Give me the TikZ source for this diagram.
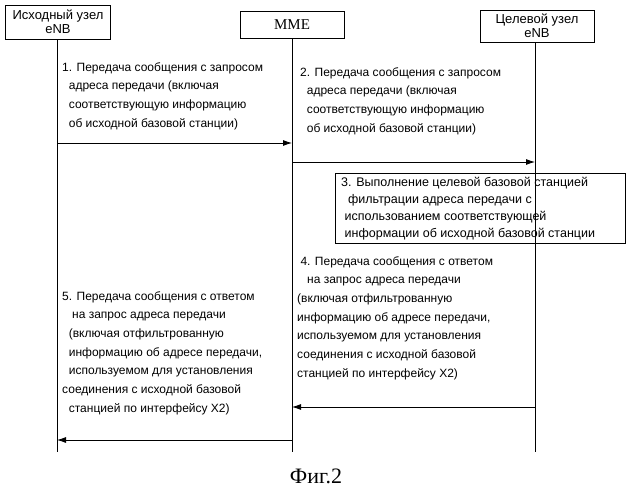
\documentclass[tikz,border=0pt]{standalone}
\usepackage{fontspec}
\setmainfont{Liberation Sans}
\newfontfamily\capfont{Liberation Serif}
\usetikzlibrary{arrows.meta}
\begin{document}
\begin{tikzpicture}[x=1pt,y=-1pt,
  ent/.style={draw,line width=0.8pt,inner sep=0pt,font=\fontsize{13}{14}\selectfont,align=center},
  life/.style={line width=0.8pt},
  msg/.style={line width=0.8pt,-{Latex[length=9pt,width=6pt]}},
  txt/.style={font=\fontsize{12}{18.7}\selectfont,align=left,anchor=north west,inner sep=0pt}]
\useasboundingbox (0,0) rectangle (634,500);
\node[ent,minimum width=105,minimum height=34] (src) at (58,22) {Исходный узел\\eNB};
\node[ent,minimum width=104,minimum height=27,font=\fontsize{15}{16}\selectfont\capfont] (mme) at (292,25) {MME};
\node[ent,minimum width=114,minimum height=32] (tgt) at (537,26) {Целевой узел\\eNB};
\coordinate (s1) at (57,143); \coordinate (m1) at (292,143);
\coordinate (m2) at (292,162); \coordinate (t2) at (535,162);
\coordinate (t4) at (535,407); \coordinate (m4) at (292,407);
\coordinate (m5) at (292,440); \coordinate (s5) at (57,440);
\draw[life] (src.south -| s1) -- (57,452);
\draw[life] (mme.south) -- (292,452);
\draw[life] (tgt.south -| t2) -- (535,452);
\node[txt] (l1) at (62,62) {1. Передача сообщения с запросом\\\ \ адреса передачи (включая\\\ \ соответствующую информацию\\\ \ об исходной базовой станции)};
\draw[msg] (s1) -- (m1);
\node[txt] (l2) at (300,67) {2. Передача сообщения с запросом\\\ \ адреса передачи (включая\\\ \ соответствующую информацию\\\ \ об исходной базовой станции)};
\draw[msg] (m2) -- (t2);
\node[draw,line width=0.8pt,minimum width=290,minimum height=70,anchor=north west,inner sep=0pt] (b3) at (335,173) {};
\node[txt,font=\fontsize{12.5}{17}\selectfont] (l3) at (341,177) {3. Выполнение целевой базовой станцией\\\ \ фильтрации адреса передачи с\\\ использованием соответствующей\\\ информации об исходной базовой станции};
\node[txt] (l4) at (297,256) {\ 4. Передача сообщения с ответом\\\ \ \ на запрос адреса передачи\\(включая отфильтрованную\\информацию об адресе передачи,\\используемом для установления\\соединения с исходной базовой\\станцией по интерфейсу X2)};
\draw[msg] (t4) -- (m4);
\node[txt] (l5) at (62,291) {5. Передача сообщения с ответом\\\ \ \ на запрос адреса передачи\\\ \ (включая отфильтрованную\\\ \ информацию об адресе передачи,\\\ \ используемом для установления\\соединения с исходной базовой\\\ \ станцией по интерфейсу X2)};
\draw[msg] (m5) -- (s5);
\node[font=\fontsize{22}{24}\selectfont\capfont] (cap) at (316,476) {Фиг.2};
\end{tikzpicture}
\end{document}
